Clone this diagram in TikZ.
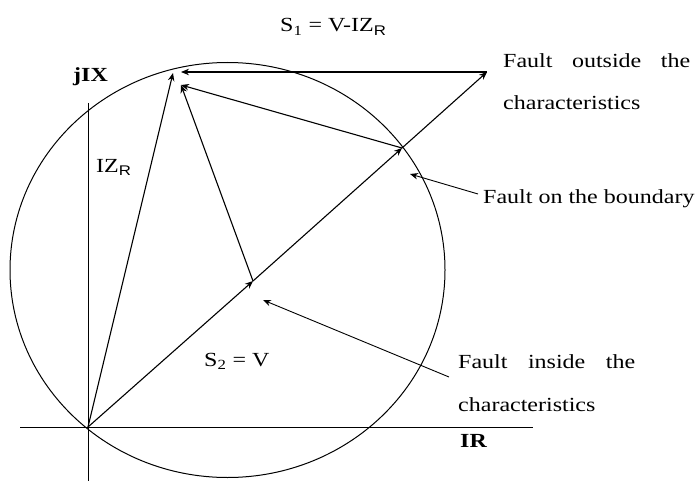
\documentclass[tikz,border=0pt]{standalone}
\usepackage{fontspec}
\setmainfont{Liberation Serif}
\setsansfont{Liberation Sans}
\usetikzlibrary{arrows.meta}
\newcommand\sxx[1]{\scalebox{1.2}[1]{#1}}
\tikzset{
  lbl/.style={font=\fontsize{20}{24}\selectfont, inner sep=0pt, anchor=base west},
  vec/.style={line width=1.1pt, -{Stealth[length=8pt,width=6.5pt]}},
  axis/.style={line width=0.8pt},
  charc/.style={line width=1pt},
}
\begin{document}
\begin{tikzpicture}[x=1pt,y=-1pt]
\useasboundingbox (0,0) rectangle (698,481);
% key points
\coordinate (O) at (88,427);
\coordinate (S2) at (253,281);
\coordinate (B) at (402,148);
\coordinate (Out) at (487,72);
\coordinate (P1) at (173,73);
\coordinate (P2) at (181,72);
\coordinate (P3) at (181,85);
\coordinate (xl) at (20,427);
\coordinate (xr) at (533,427);
\coordinate (yt) at (88,103);
\coordinate (yb) at (88,481);
\coordinate (C) at (227.5,270);
% axes
\draw[axis] (xl) -- (xr);
\draw[axis] (yt) -- (yb);
% characteristic circle
\draw[charc] (C) ellipse [x radius=217.5, y radius=207.5];
% vectors
\draw[vec] (O) -- (P1);
\draw[vec] (O) -- (S2);
\draw[vec] (S2) -- (B);
\draw[vec] (B) -- (Out);
\draw[vec] (Out) -- (P2);
\draw[vec] (S2) -- (P3);
\draw[vec] (B) -- (P3);
% labels
\node[lbl] (s1) at (280,32) {\sxx{S\textsubscript{1} = V-IZ\textsubscript{\sffamily R}}};
\node[lbl] (jix) at (73,82) {\sxx{\bfseries jIX}};
\node[lbl] (izr) at (96,172) {\sxx{IZ\textsubscript{\sffamily R}}};
\node[lbl] (s2) at (204,366) {\sxx{S\textsubscript{2} = V}};
\node[lbl] (ir) at (460,447) {\sxx{\bfseries IR}};
\node[lbl] (fo1) at (503,68) {\sxx{\makebox[155.8pt][s]{Fault outside the}}};
\node[lbl] (fo2) at (503,110) {\sxx{characteristics}};
\node[lbl] (fb) at (483,203) {\sxx{Fault on the boundary}};
\node[lbl] (fi1) at (458,368) {\sxx{\makebox[147.5pt][s]{Fault inside the}}};
\node[lbl] (fi2) at (458,411) {\sxx{characteristics}};
% pointer arrows
\coordinate (fbs) at (478,194);
\coordinate (fbe) at (410,174);
\coordinate (fis) at (449,377);
\coordinate (fie) at (263,300);
\draw[vec, line width=0.9pt] (fbs) -- (fbe);
\draw[vec, line width=0.9pt] (fis) -- (fie);
\end{tikzpicture}
\end{document}
